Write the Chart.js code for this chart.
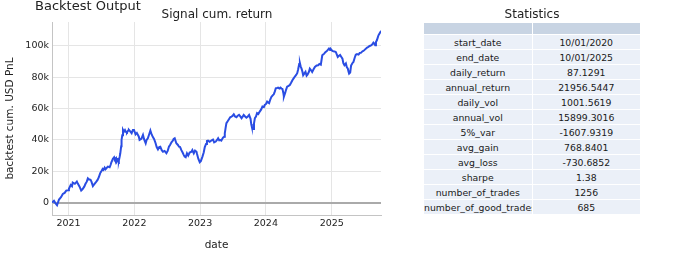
<!DOCTYPE html>
<html>
<head>
<meta charset="utf-8">
<script src="https://cdn.jsdelivr.net/npm/chart.js@4.4.1/dist/chart.umd.min.js"></script>
<style>
    body { margin: 0; background: #fff; font-family: "DejaVu Sans", Verdana, sans-serif; }
    #wrap { position: relative; width: 690px; height: 264px; overflow: hidden; }
    #chart { position: absolute; left: 0; top: 0; }
    .title { position: absolute; white-space: nowrap; color: #222; line-height: 1; }
    #fig-title { left: 35px; top: -1px; font-size: 13px; }
    #plot-title { left: 217px; top: 8px; font-size: 12px; transform: translateX(-50%); }
    #table-title { left: 532px; top: 8px; font-size: 12px; transform: translateX(-50%); }
    #stats { position: absolute; left: 423px; top: 22px; width: 218px; border-collapse: collapse; table-layout: fixed; font-size: 9.3px; color: #1a1a1a; }
    #stats th, #stats td { padding: 0; text-align: center; white-space: nowrap; overflow: hidden; border: 1px solid #fff; }
    #stats th { background: #c8d4e3; height: 11px; }
    #stats td { background: #ebf0f8; height: 14px; }
</style>
</head>
<body>
<div id="wrap">
    <canvas id="chart" width="395" height="264"></canvas>
    <div class="title" id="fig-title">Backtest Output</div>
    <div class="title" id="plot-title">Signal cum. return</div>
    <div class="title" id="table-title">Statistics</div>
    <table id="stats"><thead><tr><th></th><th></th></tr></thead><tbody id="stats-body"></tbody></table>
</div>
<script>
// Signal cumulative PnL (USD)
const dates = [
    '2020-10-01','2020-10-12','2020-10-20','2020-10-29','2020-11-09','2020-11-20','2020-11-30','2020-12-10','2020-12-19','2020-12-29',
    '2021-01-03','2021-01-13','2021-01-20','2021-01-24','2021-02-05','2021-02-16','2021-02-22','2021-03-03','2021-03-12','2021-03-19',
    '2021-03-29','2021-04-05','2021-04-12','2021-04-18','2021-04-23','2021-05-03','2021-05-08','2021-05-16','2021-05-22','2021-06-04',
    '2021-06-11','2021-06-18','2021-06-25','2021-07-01','2021-07-09','2021-07-14','2021-07-20','2021-07-25','2021-08-07','2021-08-17',
    '2021-08-22','2021-08-26','2021-09-04','2021-09-11','2021-09-15','2021-09-22','2021-09-26','2021-10-03','2021-10-07','2021-10-12',
    '2021-10-15','2021-10-20','2021-10-22','2021-10-26','2021-10-30','2021-11-04','2021-11-10','2021-11-16','2021-11-21','2021-11-28',
    '2021-12-02','2021-12-09','2021-12-17','2021-12-24','2021-12-30',
    '2022-01-08','2022-01-15','2022-01-21','2022-01-26','2022-01-30','2022-02-09','2022-02-18','2022-02-24','2022-03-05','2022-03-10',
    '2022-03-17','2022-03-24','2022-03-31','2022-04-07','2022-04-14','2022-04-21','2022-04-29','2022-05-05','2022-05-12','2022-05-19',
    '2022-05-25','2022-06-02','2022-06-09','2022-06-18','2022-06-28','2022-07-05','2022-07-12','2022-07-19','2022-07-26','2022-08-03',
    '2022-08-07','2022-08-13','2022-08-22','2022-08-31','2022-09-06','2022-09-12','2022-09-19','2022-09-26','2022-10-02','2022-10-07',
    '2022-10-13','2022-10-20','2022-10-27','2022-11-04','2022-11-14','2022-11-19','2022-11-27','2022-12-04','2022-12-12','2022-12-15',
    '2022-12-22','2022-12-30',
    '2023-01-05','2023-01-14','2023-01-21','2023-01-27','2023-02-03','2023-02-08','2023-02-14','2023-02-23','2023-03-03','2023-03-10',
    '2023-03-14','2023-03-20','2023-03-29','2023-04-05','2023-04-11','2023-04-17','2023-04-24','2023-04-29','2023-05-08','2023-05-14',
    '2023-05-18','2023-05-23','2023-05-27','2023-06-03','2023-06-11','2023-06-17','2023-06-24','2023-07-01','2023-07-07','2023-07-14',
    '2023-07-22','2023-07-29','2023-08-05','2023-08-12','2023-08-19','2023-08-26','2023-08-31','2023-09-08','2023-09-15','2023-09-23',
    '2023-09-30','2023-10-08','2023-10-12','2023-10-15','2023-10-22','2023-10-27','2023-11-01','2023-11-07','2023-11-13','2023-11-20',
    '2023-11-28','2023-12-06','2023-12-13','2023-12-21','2023-12-26',
    '2024-01-02','2024-01-08','2024-01-13','2024-01-19','2024-01-26','2024-02-01','2024-02-08','2024-02-14','2024-02-20','2024-02-25',
    '2024-03-03','2024-03-09','2024-03-16','2024-03-22','2024-03-28','2024-04-02','2024-04-07','2024-04-10','2024-04-17','2024-04-22',
    '2024-04-28','2024-05-06','2024-05-13','2024-05-20','2024-05-28','2024-06-04','2024-06-10','2024-06-17','2024-06-23','2024-06-28',
    '2024-07-04','2024-07-08','2024-07-12','2024-07-17','2024-07-22','2024-07-26','2024-08-02','2024-08-08','2024-08-14','2024-08-19',
    '2024-08-27','2024-09-01','2024-09-08','2024-09-14','2024-09-21','2024-09-29','2024-10-09','2024-10-17','2024-10-24','2024-11-01',
    '2024-11-09','2024-11-14','2024-11-20','2024-11-26','2024-12-03','2024-12-10','2024-12-16','2024-12-22','2024-12-27',
    '2025-01-04','2025-01-10','2025-01-16','2025-01-23','2025-01-29','2025-02-03','2025-02-10','2025-02-16','2025-02-23','2025-03-01',
    '2025-03-06','2025-03-12','2025-03-20','2025-03-25','2025-03-31','2025-04-04','2025-04-07','2025-04-13','2025-04-18','2025-04-25',
    '2025-05-01','2025-05-08','2025-05-14','2025-05-21','2025-05-29','2025-06-05','2025-06-13','2025-06-19','2025-06-25','2025-07-02',
    '2025-07-09','2025-07-16','2025-07-23','2025-07-30','2025-08-07','2025-08-14','2025-08-20','2025-08-25','2025-08-30','2025-09-03',
    '2025-09-08','2025-09-12','2025-09-17','2025-09-22','2025-09-28','2025-10-01'
];
const pnl = [
    0, 1200, -300, -1600, 2000, 3500, 5500, 6200, 7700, 7900,
    8800, 11300, 10500, 12800, 12000, 13400, 12000, 10200, 7700, 8500,
    10200, 12000, 13400, 15500, 14900, 14500, 13400, 10600, 11500, 13400,
    14500, 16200, 18700, 19800, 21500, 20900, 22300, 21300, 23000, 22600,
    24000, 25500, 28000, 29000, 27700, 28500, 26200, 27500, 26800, 29500,
    31500, 36000, 40000, 43000, 46400, 45300, 46400, 45000, 44700, 46000,
    46400, 45500, 44300, 46400, 46400,
    43600, 44500, 43200, 42100, 40000, 40700, 43200, 40500, 37900, 40000,
    41100, 43500, 46000, 43500, 41800, 40500, 37900, 35500, 34000, 35500,
    35700, 33500, 32500, 33000, 31500, 33000, 35700, 37000, 38500, 39600,
    40700, 41100, 37900, 36800, 35700, 35500, 33500, 32000, 30500, 29400,
    29000, 31500, 30000, 32000, 32500, 33600, 31500, 33200, 32500, 31000,
    28000, 25800,
    26500, 29400, 32000, 35500, 37500, 39400, 39600, 38800, 39500, 40000,
    40200, 38500, 39000, 40000, 41100, 39800, 40000, 39600, 41500, 42000,
    44300, 48000, 50700, 52000, 53400, 54500, 54900, 55500, 56400, 55000,
    54500, 55500, 56000, 55000, 53900, 55000, 56000, 55000, 54200, 55000,
    56000, 53500, 50000, 48500, 47000, 50500, 53900, 55000, 57100, 56500,
    58100, 59500, 61300, 61000, 62400,
    63000, 64500, 64000, 63500, 66000, 67600, 68500, 69200, 71000, 73000,
    73200, 73400, 72800, 73400, 72800, 72600, 70000, 67600, 70000, 72000,
    74000, 74500, 75100, 76500, 78300, 79500, 80500, 81500, 82600, 85000,
    88500, 89000, 87000, 85500, 83500, 81300, 82500, 83500, 81000, 81700,
    83500, 85500, 84500, 83400, 85000, 86600, 87500, 87700, 88500, 88000,
    94000, 94500, 95100, 96000, 96600, 97500, 98300, 97500, 97900,
    96800, 96600, 96500, 96200, 94500, 93000, 93800, 94300, 93000, 91900,
    89000, 87700, 88800, 86500, 85500, 83500, 82300, 83000, 87500, 89000,
    89800, 92500, 94400, 94800, 94500, 95500, 95700, 96500, 96800, 97500,
    98300, 99000, 99400, 100000, 100400, 101000, 102100, 101500, 100400, 102500,
    103600, 105000, 106800, 107800, 108900, 108500
];

// axes
const yTicks = [0, 20000, 40000, 60000, 80000, 100000];
const yTickLabels = ['0', '20k', '40k', '60k', '80k', '100k'];
const xTickYears = [2021, 2022, 2023, 2024, 2025];
const yMin = -7900;
const yMax = 115300;

// statistics table
const statNames = ['start_date', 'end_date', 'daily_return', 'annual_return', 'daily_vol', 'annual_vol',
    '5%_var', 'avg_gain', 'avg_loss', 'sharpe', 'number_of_trades', 'number_of_good_trades'];
const statValues = ['10/01/2020', '10/01/2025', '87.1291', '21956.5447', '1001.5619', '15899.3016',
    '-1607.9319', '768.8401', '-730.6852', '1.38', '1256', '685'];

function toTime(s) {
    const p = s.split('-').map(Number);
    return Date.UTC(p[0], p[1] - 1, p[2]);
}

const body = document.getElementById('stats-body');
statNames.forEach((name, i) => {
    const tr = document.createElement('tr');
    const a = document.createElement('td');
    a.textContent = name;
    const b = document.createElement('td');
    b.textContent = statValues[i];
    tr.appendChild(a);
    tr.appendChild(b);
    body.appendChild(tr);
});

const points = dates.map((d, i) => ({ x: toTime(d), y: pnl[i] }));
const xTicks = xTickYears.map(y => Date.UTC(y, 0, 1));
const font = { family: '"DejaVu Sans", Verdana, sans-serif' };

new Chart(document.getElementById('chart'), {
    type: 'line',
    data: {
        datasets: [{
            data: points,
            borderColor: '#2a4de3',
            borderWidth: 2,
            pointRadius: 0,
            tension: 0,
            fill: false
        }]
    },
    options: {
        responsive: false,
        animation: false,
        devicePixelRatio: 1,
        layout: { padding: { top: 22, right: 14, left: 0, bottom: 0 } },
        plugins: { legend: { display: false }, tooltip: { enabled: false } },
        scales: {
            x: {
                type: 'linear',
                min: toTime(dates[0]),
                max: toTime(dates[dates.length - 1]),
                afterBuildTicks: s => { s.ticks = xTicks.map(v => ({ value: v })); },
                afterFit: s => { s.height = 49; },
                ticks: {
                    autoSkip: false, maxRotation: 0, padding: 3, color: '#222',
                    font: { ...font, size: 9.5 },
                    callback: (v, i) => String(xTickYears[i])
                },
                grid: { color: '#e5e5e5', drawTicks: false },
                border: { display: true, color: '#c4c4c4', width: 1 },
                title: { display: true, text: 'date', color: '#222', font: { ...font, size: 10.5 }, padding: { bottom: 12 } }
            },
            y: {
                min: yMin,
                max: yMax,
                afterBuildTicks: s => { s.ticks = yTicks.map(v => ({ value: v })); },
                afterFit: s => { s.width = 52; },
                ticks: {
                    padding: 3, color: '#222',
                    font: { ...font, size: 9.5 },
                    callback: (v, i) => yTickLabels[i]
                },
                grid: {
                    color: c => (c.tick && c.tick.value === 0) ? '#aaaaaa' : '#e5e5e5',
                    lineWidth: c => (c.tick && c.tick.value === 0) ? 2 : 1,
                    drawTicks: false
                },
                border: { display: true, color: '#c4c4c4', width: 1 },
                title: { display: true, text: 'backtest cum. USD PnL', color: '#222', font: { ...font, size: 10.5 }, padding: { top: 4 } }
            }
        }
    }
});
</script>
</body>
</html>
